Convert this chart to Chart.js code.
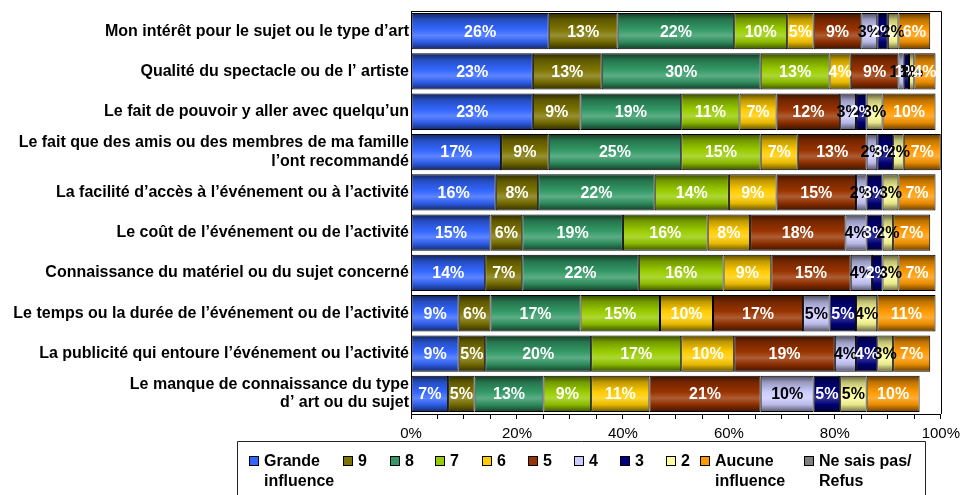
<!DOCTYPE html>
<html>
<head>
<meta charset="utf-8">
<script src="https://cdn.jsdelivr.net/npm/chart.js@4/dist/chart.umd.min.js"></script>
<style>
  html, body { margin: 0; padding: 0; background: #fff; }
  #wrap { width: 966px; height: 495px; position: relative; }
</style>
</head>
<body>
<div id="wrap"><canvas id="influence-chart"></canvas></div>
<script>
/* ── DATA ── */
const categories = [
  'Mon intérêt pour le sujet ou le type d’art',
  'Qualité du spectacle ou de l’ artiste',
  'Le fait de pouvoir y aller avec quelqu’un',
  ['Le fait que des amis ou des membres de ma famille', 'l’ont recommandé'],
  'La facilité d’accès à l’événement ou à l’activité',
  'Le coût de l’événement ou de l’activité',
  'Connaissance du matériel ou du sujet concerné',
  'Le temps ou la durée de l’événement ou de l’activité',
  'La publicité qui entoure l’événement ou l’activité',
  ['Le manque de connaissance du type', 'd’ art ou du sujet'],
];

const seriesNames = [
  ['Grande', 'influence'], '9', '8', '7', '6', '5', '4', '3', '2',
  ['Aucune', 'influence'], ['Ne sais pas/', 'Refus'],
];

const grande  = [26, 23, 23, 17, 16, 15, 14,  9,  9,  7];
const note9   = [13, 13,  9,  9,  8,  6,  7,  6,  5,  5];
const note8   = [22, 30, 19, 25, 22, 19, 22, 17, 20, 13];
const note7   = [10, 13, 11, 15, 14, 16, 16, 15, 17,  9];
const note6   = [ 5,  4,  7,  7,  9,  8,  9, 10, 10, 11];
const note5   = [ 9,  9, 12, 13, 15, 18, 15, 17, 19, 21];
const note4   = [ 3,  1,  3,  2,  2,  4,  4,  5,  4, 10];
const note3   = [ 2,  1,  2,  3,  3,  3,  2,  5,  4,  5];
const note2   = [ 2,  1,  3,  2,  3,  2,  3,  4,  3,  5];
const aucune  = [ 6,  4, 10,  7,  7,  7,  7, 11,  7, 10];
const neSais  = [ 0,  0,  0,  0,  0,  0,  0,  0,  0,  0];

const seriesValues = [grande, note9, note8, note7, note6, note5, note4, note3, note2, aucune, neSais];

const xTickValues = [0, 20, 40, 60, 80, 100];

/* ── STYLE ── */
const FONT = "'Liberation Sans', Arial, sans-serif";
const COLORS = ['#3366FF', '#7D7400', '#339966', '#99CC00', '#FFCC00', '#993300',
                '#CCCCFF', '#000080', '#FFFF99', '#FF9900', '#808080'];
const LABEL_COLORS = ['#fff', '#fff', '#fff', '#fff', '#fff', '#fff',
                      '#000', '#fff', '#000', '#fff', '#fff'];
// legend layout (Excel-like fixed slots)
const LEGEND_X = [249, 343, 390, 435, 482, 528, 574, 620, 666, 700, 804];
const LEGEND_BOX = { left: 237, top: 441, right: 925 };

function shade(hex, f) {
  const n = parseInt(hex.slice(1), 16);
  let r = (n >> 16) & 255, g = (n >> 8) & 255, b = n & 255;
  if (f < 0) { r *= 1 + f; g *= 1 + f; b *= 1 + f; }
  else { r += (255 - r) * f; g += (255 - g) * f; b += (255 - b) * f; }
  return 'rgb(' + Math.round(r) + ',' + Math.round(g) + ',' + Math.round(b) + ')';
}

const BAR_PCT = 0.9;

function barFill(base) {
  return (c) => {
    if (c.type !== 'data') return base;
    const ch = c.chart;
    const ys = ch.scales.y;
    if (!ys || !ch.chartArea) return base;
    const yc = ys.getPixelForValue(c.dataIndex);
    const half = ys.height / categories.length * BAR_PCT / 2;
    const g = ch.ctx.createLinearGradient(0, yc - half, 0, yc + half);
    g.addColorStop(0.00, shade(base, -0.65));
    g.addColorStop(0.18, shade(base, -0.25));
    g.addColorStop(0.45, base);
    g.addColorStop(0.62, shade(base, 0.2));
    g.addColorStop(0.80, shade(base, -0.1));
    g.addColorStop(1.00, shade(base, -0.6));
    return g;
  };
}

/* ── PLUGINS ── */
const segLabels = {
  id: 'segLabels',
  afterDatasetsDraw(chart) {
    const ctx = chart.ctx;
    ctx.save();
    ctx.font = 'bold 16px ' + FONT;
    ctx.textAlign = 'center';
    ctx.textBaseline = 'middle';
    chart.data.datasets.forEach((ds, di) => {
      const meta = chart.getDatasetMeta(di);
      meta.data.forEach((el, i) => {
        const v = ds.data[i];
        if (!v) return;
        ctx.fillStyle = LABEL_COLORS[di];
        ctx.fillText(v + '%', (el.x + el.base) / 2, el.y + 1);
      });
    });
    ctx.restore();
  },
};

const frames = {
  id: 'frames',
  afterDraw(chart) {
    const ctx = chart.ctx;
    const a = chart.chartArea;
    ctx.save();
    ctx.strokeStyle = '#000';
    ctx.lineWidth = 1;
    ctx.beginPath();
    ctx.moveTo(a.left, Math.round(a.top) + 0.5);
    ctx.lineTo(Math.round(a.right) + 0.5, Math.round(a.top) + 0.5);
    ctx.lineTo(Math.round(a.right) + 0.5, a.bottom);
    ctx.stroke();

    // legend in its box
    const b = LEGEND_BOX;
    ctx.strokeStyle = '#222';
    ctx.beginPath();
    ctx.moveTo(b.left + 0.5, chart.height + 2);
    ctx.lineTo(b.left + 0.5, b.top + 0.5);
    ctx.lineTo(b.right + 0.5, b.top + 0.5);
    ctx.lineTo(b.right + 0.5, chart.height + 2);
    ctx.stroke();

    ctx.font = 'bold 16px ' + FONT;
    ctx.textAlign = 'left';
    ctx.textBaseline = 'middle';
    chart.data.datasets.forEach((ds, i) => {
      const x = LEGEND_X[i];
      ctx.fillStyle = COLORS[i];
      ctx.fillRect(x, 456, 10, 10);
      ctx.strokeStyle = '#000';
      ctx.strokeRect(x + 0.5, 456.5, 9, 9);
      ctx.fillStyle = '#000';
      const lines = Array.isArray(ds.label) ? ds.label : [ds.label];
      lines.forEach((t, k) => ctx.fillText(t, x + 15, 462 + k * 20));
    });
    ctx.restore();
  },
};

/* ── CHART ── */
const datasets = seriesValues.map((vals, i) => ({
  label: seriesNames[i],
  data: vals,
  backgroundColor: barFill(COLORS[i]),
  borderColor: '#000',
  borderWidth: 1,
  borderSkipped: false,
  barPercentage: BAR_PCT,
  categoryPercentage: 1,
}));

new Chart(document.getElementById('influence-chart'), {
  type: 'bar',
  data: { labels: categories, datasets },
  plugins: [segLabels, frames],
  options: {
    indexAxis: 'y',
    responsive: true,
    maintainAspectRatio: false,
    animation: false,
    layout: { padding: { top: 11, right: 19, left: 0, bottom: 51 } },
    plugins: {
      tooltip: { enabled: false },
      legend: { display: false },
    },
    scales: {
      x: {
        stacked: true,
        min: 0,
        max: 100,
        grid: { drawOnChartArea: false, drawTicks: true, tickLength: 5, color: '#000' },
        border: { color: '#000', width: 1 },
        afterFit: s => { s.height = 30; },
        ticks: {
          stepSize: 5,
          autoSkip: false,
          maxRotation: 0,
          padding: 6,
          color: '#000',
          font: { family: FONT, size: 15 },
          callback: v => xTickValues.includes(v) ? v + '%' : '',
        },
      },
      y: {
        stacked: true,
        grid: { display: false, drawTicks: false },
        border: { color: '#000', width: 1 },
        afterFit: s => { s.width = 411; s.paddingTop = 0; s.paddingBottom = 0; },
        ticks: {
          autoSkip: false,
          padding: 2,
          color: '#000',
          font: { family: FONT, size: 16, weight: 'bold', lineHeight: 1.15 },
        },
      },
    },
  },
});
</script>
</body>
</html>
